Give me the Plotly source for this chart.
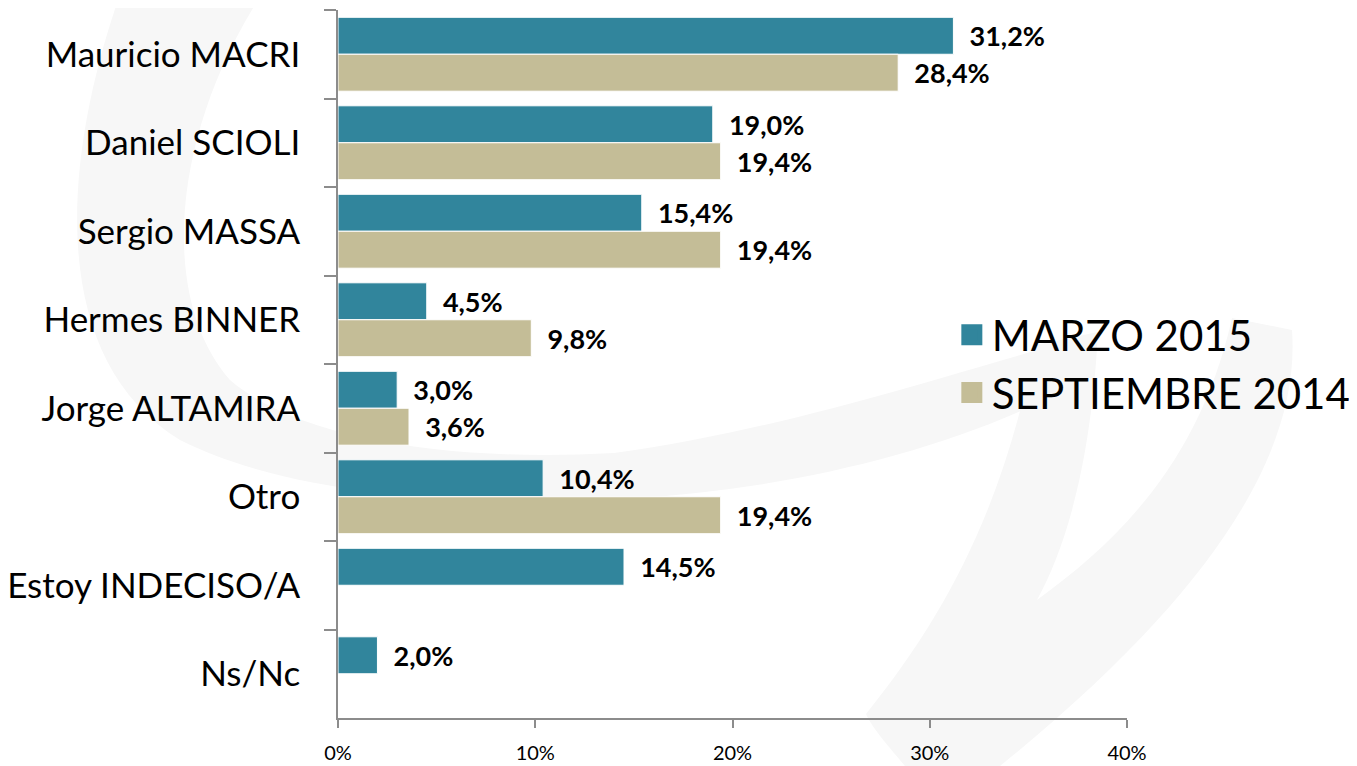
import plotly.graph_objects as go

categories = ["Mauricio MACRI", "Daniel SCIOLI", "Sergio MASSA", "Hermes BINNER",
              "Jorge ALTAMIRA", "Otro", "Estoy INDECISO/A", "Ns/Nc"]
marzo_2015 = [31.2, 19.0, 15.4, 4.5, 3.0, 10.4, 14.5, 2.0]
septiembre_2014 = [28.4, 19.4, 19.4, 9.8, 3.6, 19.4, None, None]
series_names = ["MARZO 2015", "SEPTIEMBRE 2014"]
x_ticks = [0, 10, 20, 30, 40]
x_tick_labels = ["0%", "10%", "20%", "30%", "40%"]

TEAL = "#31859C"
BEIGE = "#C4BD97"
AXIS = "#8C8C8C"
WATERMARK = "#F7F7F7"
FONT = "Lato"

# plot area in page pixels (page has an 8px body margin)
PL, PT, PW, PH = 338, 10, 789, 708


def P(x, y):
    return f"{(x - PL) / PW:.4f},{(PT + PH - y) / PH:.4f}"


def path(cmds):
    out = []
    for c in cmds:
        op, pts = c[0], c[1:]
        out.append(op + " ".join(P(*p) for p in pts))
    return " ".join(out) + " Z"


# faint background watermark (decoration)
crescent = path([
    ("M", (118, 0)),
    ("C", (60, 170), (50, 360), (180, 440)),
    ("C", (300, 500), (480, 505), (633, 498)),
    ("C", (780, 490), (930, 455), (1045, 400)),
    ("L", (1045, 348)),
    ("C", (930, 380), (780, 430), (614, 453)),
    ("C", (450, 462), (300, 440), (230, 380)),
    ("C", (160, 300), (170, 140), (258, 0)),
])
swoosh = path([
    ("M", (1035, 345)),
    ("L", (1098, 332)),
    ("C", (1092, 450), (1070, 540), (1037, 600)),
    ("C", (1120, 540), (1200, 460), (1232, 318)),
    ("L", (1292, 330)),
    ("C", (1300, 440), (1230, 580), (1000, 766)),
    ("L", (905, 766)),
    ("C", (890, 748), (872, 728), (866, 714)),
    ("C", (950, 610), (1005, 500), (1035, 345)),
])

fig = go.Figure()
for name, vals, col in [(series_names[0], marzo_2015, TEAL),
                        (series_names[1], septiembre_2014, BEIGE)]:
    fig.add_trace(go.Bar(
        y=categories, x=vals, orientation="h", name=name,
        marker=dict(color=col, line=dict(color="white", width=1)),
        texttemplate="\u00a0\u00a0%{x:.1f}%", textposition="outside",
        textfont=dict(family=FONT, size=27, color="black", weight="bold"),
        constraintext="none", cliponaxis=False, showlegend=False,
    ))
    fig.add_trace(go.Scatter(
        x=[None], y=[None], mode="markers", name=name,
        marker=dict(symbol="square", size=16, color=col, line=dict(color=col, width=5)),
        showlegend=True,
    ))

shapes = [dict(type="path", xref="paper", yref="paper", path=p, fillcolor=WATERMARK,
               line=dict(width=0), layer="below") for p in (crescent, swoosh)]

fig.update_layout(
    width=1357, height=766,
    margin=dict(l=PL - 8, r=1357 - (PL - 8) - PW, t=PT - 8, b=766 - (PT - 8) - PH),
    paper_bgcolor="white", plot_bgcolor="rgba(0,0,0,0)",
    barmode="group", bargap=0.165, bargroupgap=0,
    separators=",.",
    font=dict(family=FONT, color="black"),
    shapes=shapes,
    legend=dict(x=0.778, y=0.589, xanchor="left", yanchor="top",
                font=dict(family=FONT, size=42, color="black"),
                bgcolor="rgba(0,0,0,0)", itemwidth=30, tracegroupgap=0),
    xaxis=dict(range=[0, 40], tickvals=x_ticks, ticktext=x_tick_labels,
               showgrid=False, zeroline=False, showline=True, linecolor=AXIS, linewidth=1.5,
               ticks="outside", ticklen=8, tickcolor=AXIS, tickwidth=1.5, automargin=False,
               ticklabelstandoff=8,
               tickfont=dict(family=FONT, size=20, color="black")),
    yaxis=dict(autorange="reversed", type="category", tickson="boundaries",
               showgrid=False, zeroline=False, showline=True, linecolor=AXIS, linewidth=1.5,
               ticks="outside", ticklen=12, tickcolor=AXIS, tickwidth=1.5,
               ticklabelstandoff=29, automargin=False,
               tickfont=dict(family=FONT, size=35, color="black")),
)

fig.write_html("out.html")
